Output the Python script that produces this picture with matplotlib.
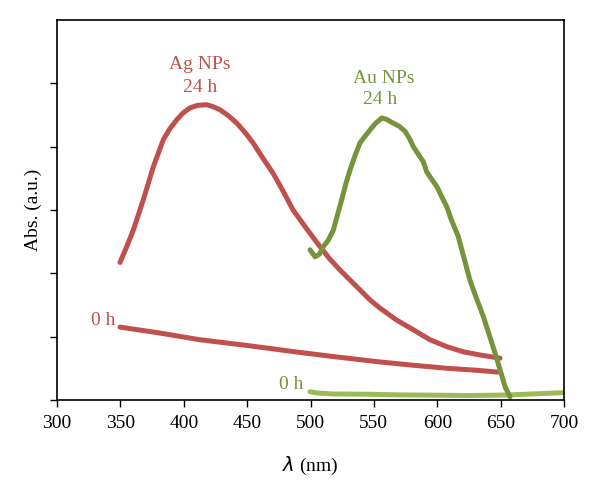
import numpy as np
import matplotlib.pyplot as plt

## spectra (wavelength nm, absorbance a.u.) ##
ag24_wl = [349.7, 355.0, 360.2, 368.1, 376.0, 383.9, 389.0, 394.4, 399.5, 404.9,
           411.0, 418.1, 423.0, 428.6, 435.0, 441.8, 448.0, 454.6, 462.0, 470.4,
           478.0, 486.2, 497.0, 507.5, 515.0, 523.3, 536.4, 546.9, 554.8, 568.0,
           580.9, 594.3, 607.7, 620.6, 633.7, 649.5]
ag24_abs = [2.17, 2.42, 2.68, 3.16, 3.68, 4.11, 4.28, 4.42, 4.53, 4.61,
            4.65, 4.66, 4.63, 4.58, 4.49, 4.37, 4.23, 4.06, 3.83, 3.58,
            3.31, 3.00, 2.70, 2.42, 2.23, 2.05, 1.79, 1.58, 1.45, 1.26,
            1.11, 0.95, 0.84, 0.76, 0.71, 0.66]

ag0_wl = [349.7, 380.0, 412.8, 450.0, 491.7, 520.0, 554.8, 580.0, 607.7, 630.0, 647.9]
ag0_abs = [1.15, 1.06, 0.95, 0.86, 0.75, 0.68, 0.60, 0.55, 0.50, 0.47, 0.44]

au24_wl = [499.6, 503.6, 507.0, 510.1, 514.0, 518.0, 521.0, 524.6, 528.0, 531.2,
           535.0, 539.1, 546.9, 551.0, 556.2, 560.0, 565.1, 570.0, 574.6, 578.0,
           581.1, 585.0, 589.0, 591.7, 595.0, 599.6, 603.0, 607.5, 611.0, 616.4,
           621.0, 625.8, 631.0, 636.3, 641.0, 645.6, 649.5, 653.5, 657.4]
au24_abs = [2.37, 2.26, 2.30, 2.42, 2.52, 2.68, 2.90, 3.16, 3.42, 3.63,
            3.85, 4.06, 4.26, 4.36, 4.45, 4.43, 4.37, 4.32, 4.24, 4.13,
            4.00, 3.88, 3.76, 3.60, 3.50, 3.37, 3.23, 3.05, 2.85, 2.59,
            2.25, 1.89, 1.60, 1.32, 1.03, 0.74, 0.48, 0.21, 0.05]

au0_wl = [499.6, 505.0, 517.8, 545.0, 570.6, 600.0, 623.5, 645.0, 657.4, 675.6, 699.2]
au0_abs = [0.13, 0.11, 0.095, 0.09, 0.08, 0.075, 0.07, 0.075, 0.08, 0.095, 0.115]

red = '#C0504D'
green = '#77933C'
lgreen = '#9BBB59'

plt.rcParams['font.family'] = 'Liberation Serif'

fig = plt.figure(figsize=(6, 4.95), dpi=100)
ax = fig.add_axes([0.095, 0.192, 0.845, 0.768])

lw = 3.6
ax.plot(ag24_wl, ag24_abs, color=red, lw=lw, solid_capstyle='round', solid_joinstyle='round')
ax.plot(ag0_wl, ag0_abs, color=red, lw=lw, solid_capstyle='round', solid_joinstyle='round')
ax.plot(au0_wl, au0_abs, color=lgreen, lw=lw, solid_capstyle='round', solid_joinstyle='round')
ax.plot(au24_wl, au24_abs, color=green, lw=lw, solid_capstyle='round', solid_joinstyle='round')

fs = 14
ax.text(412.8, 5.29, 'Ag NPs', color=red, fontsize=fs, ha='center', va='center')
ax.text(412.8, 4.93, '24 h', color=red, fontsize=fs, ha='center', va='center')
ax.text(558, 5.08, 'Au NPs', color=green, fontsize=fs, ha='center', va='center')
ax.text(554.8, 4.74, '24 h', color=green, fontsize=fs, ha='center', va='center')
ax.text(346, 1.25, '0 h', color=red, fontsize=fs, ha='right', va='center')
ax.text(494, 0.24, '0 h', color=green, fontsize=fs, ha='right', va='center')

ax.set_xlim(300, 700)
ax.set_ylim(0, 6)
ax.set_xticks(np.arange(300, 701, 50))
ax.set_yticks(np.arange(0, 6, 1))
ax.set_yticklabels([])
ax.tick_params(direction='out', length=5, width=1, labelsize=fs, colors='black', pad=6)
for s in ax.spines.values():
    s.set_linewidth(1.2)

ax.set_xlabel(r'$\lambda$ (nm)', fontsize=fs, labelpad=16)
ax.set_ylabel('Abs. (a.u.)', fontsize=fs, labelpad=0)

fig.savefig('out.png', dpi=100)
